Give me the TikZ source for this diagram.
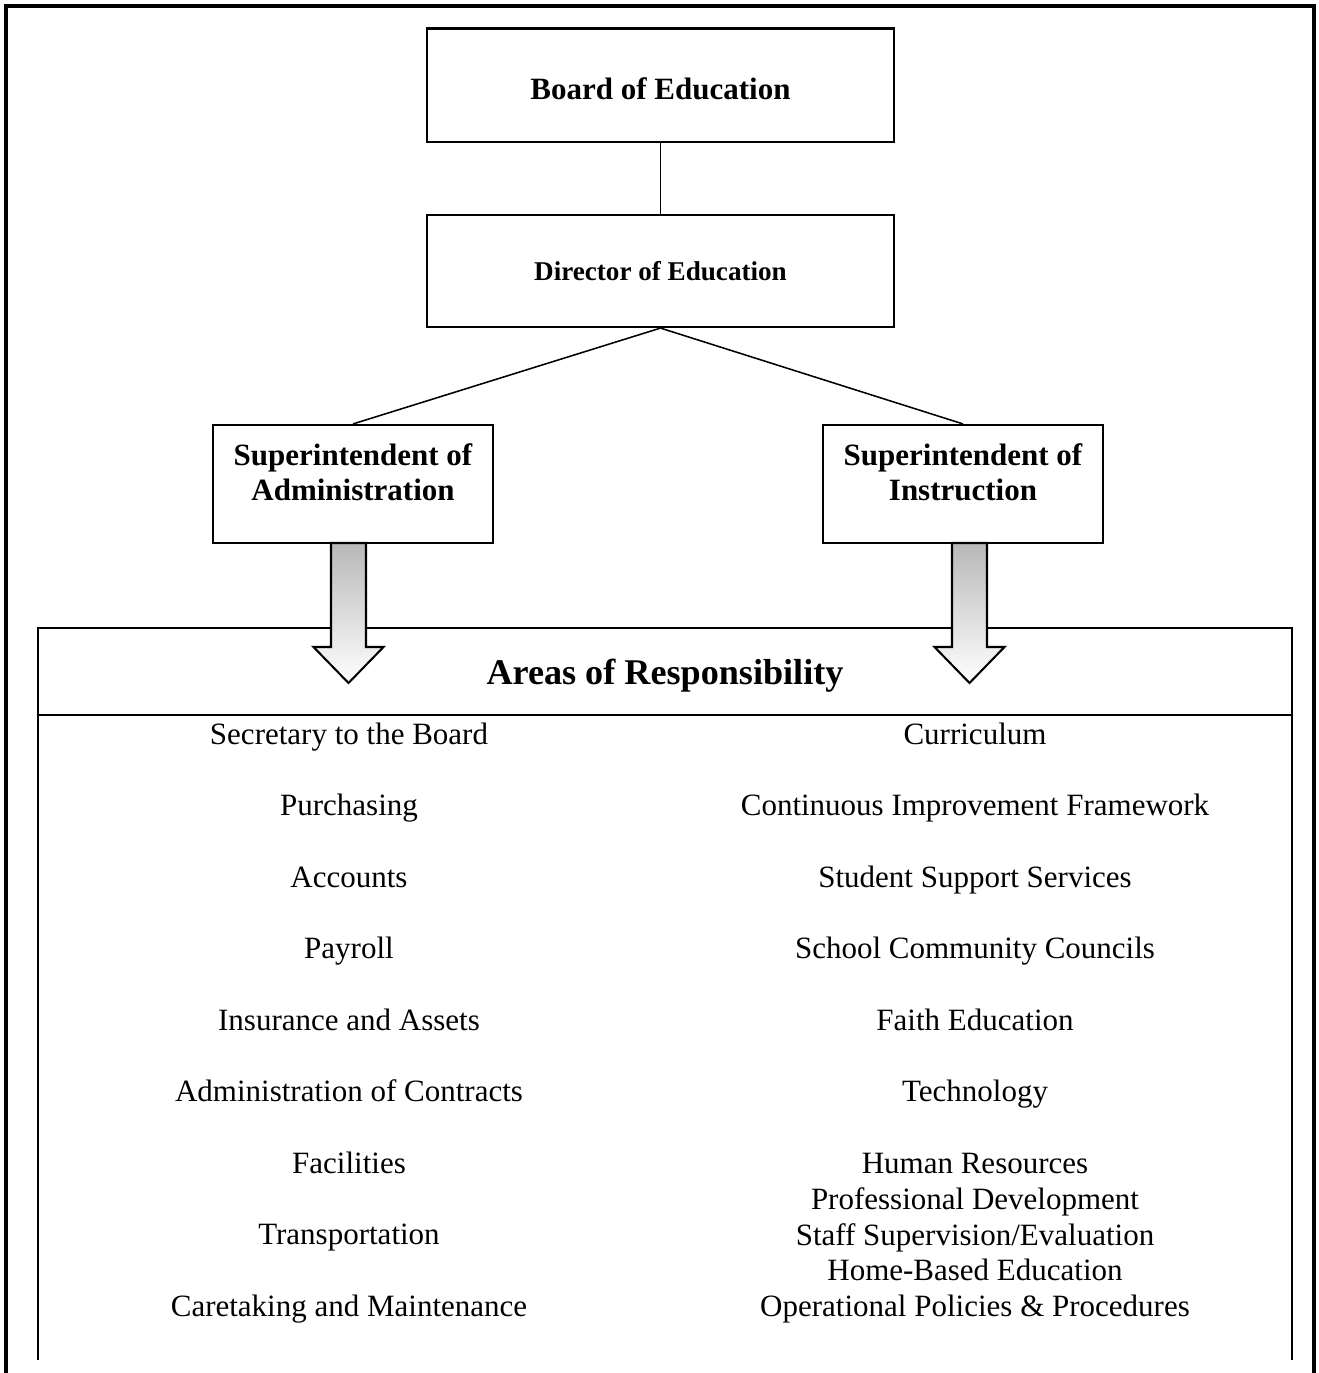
\documentclass[tikz,border=0pt]{standalone}
\usepackage{fontspec}
\setmainfont{Liberation Serif}
\tikzset{
    orgbox/.style={draw, line width=0.8pt, rectangle, font=\bfseries\fontsize{12}{13.6}\selectfont},
    suptext/.style={font=\bfseries\fontsize{12}{13.6}\selectfont, align=center, yshift=4.5pt},
    link/.style={line width=0.6pt},
    item/.style={anchor=base, font=\fontsize{12}{14}\selectfont},
    blockarrow/.style={draw, line width=0.8pt, top color=black!28, bottom color=white}
}
\begin{document}
\begin{tikzpicture}[x=0.3871pt, y=-0.3871pt]
    \useasboundingbox (0, 0) rectangle (1318, 1373);
    \draw[line width=1.6pt](6, 1373) -- (6, 6) -- (1314, 6) -- (1314, 1373);
    \node[orgbox, minimum width=180.8pt, minimum height=44.1pt, text height=10.7pt, text depth=0pt] (board) at (660.5, 85.5){Board of Education};
    \node[orgbox, minimum width=180.8pt, minimum height=43.4pt, font=\bfseries\fontsize{10.5}{12}\selectfont] (director) at (660.5, 271){Director of Education};
    \node[orgbox, minimum width=108.4pt, minimum height=45.7pt,
        label={[suptext]center:Superintendent of\\Administration}] (admin) at (353, 484){};
    \node[orgbox, minimum width=108.4pt, minimum height=45.7pt,
        label={[suptext]center:Superintendent of\\Instruction}] (instr) at (963, 484){};
    \draw[link](board) -- (director);
    \draw[link](director.south) -- (admin.north);
    \draw[link](director.south) -- (instr.north);
    \draw[line width=0.8pt](38, 1360) -- (38, 628) -- (1292, 628) -- (1292, 1360);
    \draw[line width=0.8pt](38, 715) -- (1292, 715);
    \foreach \ax in {348.5, 969.5}
        \shade[blockarrow]({\ax-17.5}, 543) -- ({\ax-17.5}, 647) -- ({\ax-35}, 647) -- (\ax, 683)
            -- ({\ax+35}, 647) -- ({\ax+17.5}, 647) -- ({\ax+17.5}, 543) -- cycle;
    \node[anchor=base, font=\bfseries\fontsize{14}{16}\selectfont] (areas) at (665, 684){Areas of Responsibility};
    \foreach \t [count=\i] in {Secretary to the Board, Purchasing, Accounts, Payroll, Insurance and Assets,
        Administration of Contracts, Facilities, Transportation, Caretaking and Maintenance}
        \node[item] (adm\i) at (349, {744+71.5*(\i-1)}){\t};
    \foreach \t [count=\i] in {Curriculum, Continuous Improvement Framework, Student Support Services,
        School Community Councils, Faith Education, Technology}
        \node[item] (ins\i) at (975, {744+71.5*(\i-1)}){\t};
    \foreach \t [count=\i] in {Human Resources, Professional Development, Staff Supervision/Evaluation,
        Home-Based Education, Operational Policies \& Procedures}
        \node[item] (hr\i) at (975, {1173.5+35.75*(\i-1)}){\t};
\end{tikzpicture}
\end{document}
